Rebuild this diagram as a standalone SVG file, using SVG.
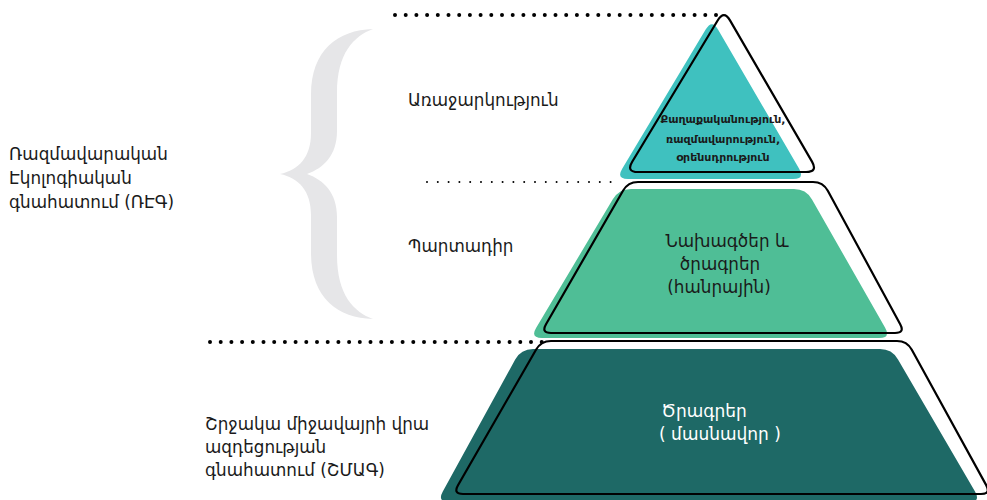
<svg xmlns="http://www.w3.org/2000/svg" width="987" height="500" viewBox="0 0 987 500">
<style>
.t{font-family:"DejaVu Sans","Noto Sans",sans-serif;fill:#1a1a1a;font-size:16.8px}
.c{text-anchor:middle}
.b{font-weight:bold;font-size:11px}
.w{fill:#ffffff;font-size:17px}
.ol{fill:none;stroke:#000;stroke-width:2.2}
.dotL{stroke:#000;stroke-width:4;stroke-linecap:round;stroke-dasharray:0 10.7;fill:none}
.dotS{stroke:#000;stroke-width:2;stroke-linecap:round;stroke-dasharray:0 10.8;fill:none}
</style>
<rect width="987" height="500" fill="#ffffff"/>
<g id="connectors">
<path class="dotL" d="M395,15 H716"/>
<path class="dotS" d="M427,182 H620"/>
<path class="dotL" d="M210,342 H545"/>
</g>
<g id="brace">
<path fill="#e6e6e8" d="M373,29 C338,30 311,50 311,95 L311,133 C311,157 299,170 280,174 C299,178 311,191 311,215 L311,253 C311,298 338,318 373,319 C354,312 337,295 337,255 L337,217 C337,193 324,180 307,174 C324,168 337,155 337,131 L337,93 C337,53 354,36 373,29 Z"/>
</g>
<g id="level-top">
<path fill="#3fc1bf" d="M705.8,29.3 Q712,19 718,29.4 L799,168.6 Q805,179 793,179 L628,179 Q616,179 622.2,168.7 Z"/>
<path class="ol" d="M717.8,20.3 Q724,10 730,20.4 L812,161.6 Q818,172 806,172 L638,172 Q626,172 632.2,161.7 Z"/>
<text class="t c b" x="723" y="123">Քաղաքականություն,</text>
<text class="t c b" x="723" y="143">ռազմավարություն,</text>
<text class="t c b" x="723" y="161">օրենսդրություն</text>
</g>
<g id="level-middle">
<path fill="#4fbe96" d="M631,189 L794,189 Q806,189 812,199.4 L885,327.6 Q891,338 879,338 L542,338 Q530,338 536.2,327.7 L612.8,199.3 Q619,189 631,189 Z"/>
<path class="ol" d="M638,182 L813,182 Q823,182 827.8,190.8 L900.2,324.2 Q905,333 895,333 L551,333 Q541,333 546,324.3 L623,190.7 Q628,182 638,182 Z"/>
<text class="t c" x="727" y="247">Նախագծեր և</text>
<text class="t c" x="720" y="270">ծրագրեր</text>
<text class="t c" x="719" y="293">(հանրային)</text>
</g>
<g id="level-bottom">
<path fill="#1e6966" d="M533,349 L880,349 Q892,349 898,359.4 L975,491.6 Q981,502 969,502 L449,502 Q437,502 442.8,491.5 L515.2,359.5 Q521,349 533,349 Z"/>
<path class="ol" d="M551,341 L897,341 Q907,341 911.8,349.8 L986.2,485.2 Q991,494 981,494 L463,494 Q453,494 458,485.3 L536,349.7 Q541,341 551,341 Z"/>
<text class="t c w" x="704" y="417">Ծրագրեր</text>
<text class="t c w" x="720" y="440">( մասնավոր )</text>
</g>
<g id="label-reg">
<text class="t" x="9" y="160">Ռազմավարական</text>
<text class="t" x="9" y="184">Էկոլոգիական</text>
<text class="t" x="9" y="208">գնահատում (ՌԷԳ)</text>
</g>
<g id="label-proposal">
<text class="t" x="408" y="106">Առաջարկություն</text>
</g>
<g id="label-mandatory">
<text class="t" x="408" y="252">Պարտադիր</text>
</g>
<g id="label-eia">
<text class="t" x="205" y="430">Շրջակա միջավայրի վրա</text>
<text class="t" x="205" y="453">ազդեցության</text>
<text class="t" x="205" y="476">գնահատում (ՇՄԱԳ)</text>
</g>
</svg>
